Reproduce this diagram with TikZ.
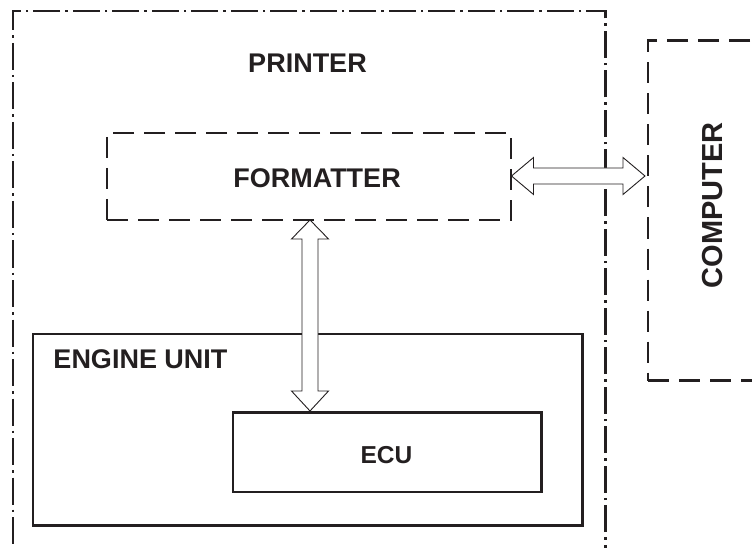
\documentclass[tikz,border=0pt]{standalone}
\usepackage{fontspec}
\setmainfont{Liberation Sans}
\usetikzlibrary{calc}
\definecolor{ink}{HTML}{231F20}
\tikzset{
  box/.style={draw=ink, inner sep=0pt, outer sep=0pt, anchor=north west},
  dashdot/.style={line width=2.7pt, dash pattern=on 27pt off 5pt on 2.5pt off 5pt},
  dashbox/.style={line width=2.7pt, dash pattern=on 21pt off 10pt},
  solidbox/.style={line width=2.7pt},
  lbl/.style={text=ink, font=\bfseries\fontsize{27}{27}\selectfont, inner sep=0pt, anchor=base},
  fatarrow/.style={draw=ink, line width=0.9pt, fill=white, line join=miter}
}
\begin{document}
\begin{tikzpicture}[x=1pt,y=-1pt]
\clip (0,0) rectangle (752,548);
\useasboundingbox (0,0) rectangle (752,548);
% boxes
\node[box, dashdot, minimum width=592.5pt, minimum height=600pt] (printer) at (13,11) {};
\node[box, dashbox, minimum width=160pt, minimum height=340pt] (computer) at (648,40.5) {};
\node[box, dashbox, minimum width=404pt, minimum height=87pt] (formatter) at (107,133) {};
\node[box, solidbox, minimum width=549.5pt, minimum height=191.5pt] (engine) at (33,334) {};
\node[box, line width=2.5pt, minimum width=308.5pt, minimum height=79.5pt] (ecu) at (233,412.5) {};
% labels
\node[lbl] (tprinter) at (307.5,73) {PRINTER};
\node[lbl] (tformatter) at (317,188) {FORMATTER};
\node[lbl] (tengine) at (140.5,368) {ENGINE UNIT};
\node[lbl, font=\bfseries\fontsize{24.5}{24.5}\selectfont] (tecu) at (386.5,463) {ECU};
\node[lbl, font=\bfseries\fontsize{29}{29}\selectfont, rotate=90] (tcomputer) at (722,205.5) {COMPUTER};
% horizontal double arrow
\coordinate (hl) at ($(formatter.east)+(0.5,-0.5)$);
\coordinate (hr) at ($(computer.west|-hl)+(-3,0)$);
\draw[fatarrow] (hl) -- ++(22,-18.5) -- ++(0,10.5) -- ($(hr)+(-22,-8)$) -- ++(0,-10.5) -- (hr)
  -- ++(-22,18.5) -- ++(0,-10.5) -- ($(hl)+(22,8)$) -- ++(0,10.5) -- cycle;
% vertical double arrow
\coordinate (vt) at (310,220);
\coordinate (vb) at (310,411);
\draw[fatarrow] (vt) -- ++(18.5,19) -- ++(-10.5,0) -- ($(vb)+(8,-20)$) -- ++(10.5,0) -- (vb)
  -- ++(-18.5,-20) -- ++(10.5,0) -- ($(vt)+(-8,19)$) -- ++(-10.5,0) -- cycle;
\end{tikzpicture}
\end{document}
